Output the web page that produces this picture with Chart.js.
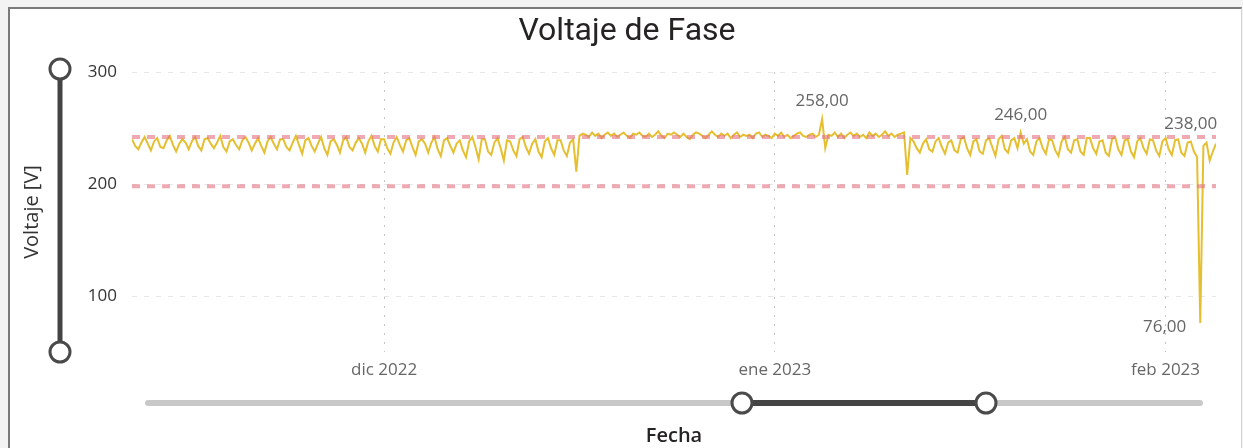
<!DOCTYPE html>
<html lang="es">
<head>
<meta charset="utf-8">
<title>Voltaje de Fase</title>
<script src="https://cdn.jsdelivr.net/npm/chart.js@4.4.1/dist/chart.umd.min.js"></script>
<style>
  html, body { margin: 0; padding: 0; background: #f3f3f3; overflow: hidden; }
  #marco {
    position: absolute; left: 8px; top: 7px; width: 1231px; height: 460px;
    background: #ffffff;
    border-left: 2px solid #7a7a7a; border-top: 2px solid #7a7a7a; border-right: 1px solid #d2d2d2;
  }
  #contenedor { position: absolute; left: 0; top: 0; width: 1243px; height: 448px; }
</style>
</head>
<body>
<div id="marco"></div>
<div id="contenedor"><canvas id="grafico"></canvas></div>
<script>
// Eje temporal: días contados desde el 1 de diciembre de 2022, una lectura cada 6 horas
const diaInicio = -20;          // 11 nov 2022
const pasoDias = 0.25;

// Voltaje de fase medido [V]
const voltaje = [
  240,234,231,237, 242,236,230,238, 241,233,232,239, 243,235,229,236,
  240,237,231,238, 242,234,230,240, 241,236,232,237, 243,233,229,238,
  240,235,231,239, 242,237,230,236, 241,234,228,238, 242,236,231,240,
  240,233,230,237, 243,235,227,239, 241,234,229,236, 242,232,226,238,
  240,235,228,239, 242,233,230,237, 241,236,228,238, 243,234,229,240,
  240,232,227,237, 242,235,229,239, 241,233,226,238, 240,236,228,237,
  242,231,225,239, 241,234,228,236, 239,230,224,238, 242,233,222,240,
  240,229,226,237, 241,232,221,239, 238,230,225,240, 242,233,227,236,
  240,229,224,238, 241,232,226,239, 239,230,225,237, 240,211,243,245,
  244,242,246,243, 245,241,244,246, 243,245,242,244, 246,243,241,245,
  244,246,243,242, 245,242,244,247, 243,241,245,244, 246,244,242,245,
  242,240,244,246, 245,243,241,244, 247,244,242,245, 243,245,241,244,
  246,242,244,243, 244,241,245,246, 242,244,243,241, 245,243,246,242,
  244,241,243,245, 246,243,242,244, 245,242,244,258, 232,244,243,246,
  242,245,241,244, 246,243,245,242, 244,241,246,243, 245,242,244,247,
  243,245,242,244, 245,246,208,241,
  238,232,228,236, 240,231,229,238, 241,233,227,237, 239,230,228,240,
  242,232,226,238, 240,229,227,239, 241,233,225,240, 243,231,228,239,
  241,232,246,236, 240,229,226,238, 241,232,227,240, 239,230,225,238,
  242,231,228,239, 240,229,226,241, 241,232,227,238, 239,228,225,240,
  242,231,226,239, 240,229,224,238, 241,232,227,240, 239,230,225,238,
  241,231,226,239, 240,228,225,237, 238,229,224,76,  234,237,221,229,
  236
];

// Límites de tensión admisible [V]
const limiteSuperior = 242;
const limiteInferior = 198;

// Marcas del eje X (inicio de cada mes) y del eje Y
const mesesDia = [0, 31, 62];
const mesesEtiqueta = ['dic 2022', 'ene 2023', 'feb 2023'];
const marcasVoltaje = [100, 200, 300];

// Lecturas que llevan etiqueta de valor
const lecturasEtiquetadas = [219, 282, 336, 339];

const diaFin = diaInicio + (voltaje.length - 1) * pasoDias;
const puntos = voltaje.map((v, i) => ({ x: diaInicio + i * pasoDias, y: v }));
const lineaLimite = (v) => [{ x: diaInicio, y: v }, { x: diaFin, y: v }];

const fuenteTexto = '"Open Sans", "Noto Sans", sans-serif';
const formatoValor = (v) => v.toFixed(2).replace('.', ',');

// Título, títulos de ejes, etiquetas de valor y deslizadores de zoom
const decoracion = {
  id: 'decoracion',
  afterDatasetsDraw(chart) {
    const ctx = chart.ctx;
    const meta = chart.getDatasetMeta(2);
    ctx.save();
    ctx.font = '17px ' + fuenteTexto;
    ctx.fillStyle = '#666666';
    lecturasEtiquetadas.forEach((i) => {
      const p = meta.data[i];
      const texto = formatoValor(voltaje[i]);
      if (voltaje[i] < limiteInferior) {
        ctx.textAlign = 'right';
        ctx.textBaseline = 'middle';
        ctx.fillText(texto, p.x - 14, p.y + 4);
      } else {
        ctx.textAlign = 'center';
        ctx.textBaseline = 'bottom';
        ctx.fillText(texto, p.x, p.y - 9);
      }
    });
    ctx.restore();
  },
  afterDraw(chart) {
    const ctx = chart.ctx;
    const area = chart.chartArea;
    ctx.save();

    // Título
    ctx.fillStyle = '#252423';
    ctx.font = '32px Roboto, "Noto Sans", sans-serif';
    ctx.textAlign = 'center';
    ctx.textBaseline = 'alphabetic';
    ctx.fillText('Voltaje de Fase', 627, 40);

    // Título del eje Y
    ctx.save();
    ctx.translate(32, 212);
    ctx.rotate(-Math.PI / 2);
    ctx.font = '20px ' + fuenteTexto;
    ctx.fillStyle = '#333333';
    ctx.textBaseline = 'middle';
    ctx.fillText('Voltaje [V]', 0, 0);
    ctx.restore();

    // Título del eje X
    ctx.font = '600 20px ' + fuenteTexto;
    ctx.fillStyle = '#252423';
    ctx.textAlign = 'center';
    ctx.textBaseline = 'middle';
    ctx.fillText('Fecha', (area.left + area.right) / 2, 436);

    const tirador = (x, y) => {
      ctx.beginPath();
      ctx.arc(x, y, 10, 0, Math.PI * 2);
      ctx.fillStyle = '#ffffff';
      ctx.fill();
      ctx.lineWidth = 3;
      ctx.strokeStyle = '#4a4a4a';
      ctx.stroke();
    };

    // Deslizador vertical
    ctx.lineCap = 'butt';
    ctx.lineWidth = 5;
    ctx.strokeStyle = '#444444';
    ctx.beginPath();
    ctx.moveTo(60, area.top - 3);
    ctx.lineTo(60, area.bottom);
    ctx.stroke();
    tirador(60, area.top - 3);
    tirador(60, area.bottom);

    // Deslizador horizontal
    const yDesl = 403;
    ctx.lineCap = 'round';
    ctx.lineWidth = 6;
    ctx.strokeStyle = '#c8c8c8';
    ctx.beginPath();
    ctx.moveTo(148, yDesl);
    ctx.lineTo(1200, yDesl);
    ctx.stroke();
    ctx.strokeStyle = '#444444';
    ctx.beginPath();
    ctx.moveTo(742, yDesl);
    ctx.lineTo(986, yDesl);
    ctx.stroke();
    tirador(742, yDesl);
    tirador(986, yDesl);

    ctx.restore();
  }
};

new Chart(document.getElementById('grafico'), {
  type: 'line',
  data: {
    datasets: [
      {
        label: 'Límite superior',
        data: lineaLimite(limiteSuperior),
        borderColor: 'rgba(226,112,128,0.6)',
        borderWidth: 4,
        borderDash: [8, 7],
        pointRadius: 0
      },
      {
        label: 'Límite inferior',
        data: lineaLimite(limiteInferior),
        borderColor: 'rgba(226,112,128,0.6)',
        borderWidth: 4,
        borderDash: [8, 7],
        pointRadius: 0
      },
      {
        label: 'Voltaje',
        data: puntos,
        borderColor: '#e5bf30',
        borderWidth: 2,
        pointRadius: 0,
        tension: 0
      }
    ]
  },
  options: {
    responsive: true,
    maintainAspectRatio: false,
    animation: false,
    events: [],
    layout: { padding: { left: 0, right: 27, top: 72, bottom: 0 } },
    plugins: { legend: { display: false }, tooltip: { enabled: false }, title: { display: false } },
    scales: {
      x: {
        type: 'linear',
        min: diaInicio,
        max: diaFin,
        afterFit: (s) => { s.height = 96; },
        afterBuildTicks: (s) => { s.ticks = mesesDia.map((v) => ({ value: v })); },
        ticks: {
          padding: 8,
          maxRotation: 0,
          autoSkip: false,
          color: '#666666',
          font: { family: fuenteTexto, size: 17 },
          callback: (v) => mesesEtiqueta[mesesDia.indexOf(v)]
        },
        grid: { color: '#c4c4c4', lineWidth: 1, drawTicks: false },
        border: { display: false, dash: [2, 7] }
      },
      y: {
        min: 50,
        max: 300,
        afterFit: (s) => { s.width = 132; },
        afterBuildTicks: (s) => { s.ticks = marcasVoltaje.map((v) => ({ value: v })); },
        ticks: {
          padding: 15,
          color: '#333333',
          font: { family: fuenteTexto, size: 17 }
        },
        grid: { color: '#e6e6e6', lineWidth: 1, drawTicks: false },
        border: { display: false, dash: [5, 7] }
      }
    }
  },
  plugins: [decoracion]
});
</script>
</body>
</html>
